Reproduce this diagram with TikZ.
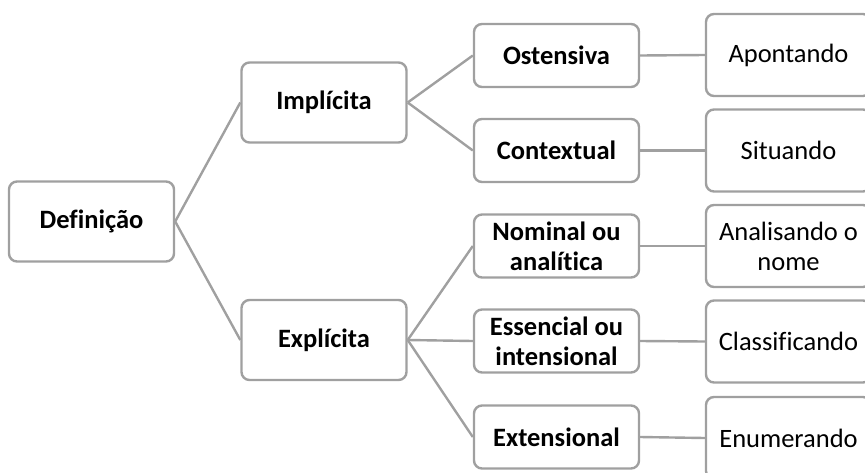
\documentclass[tikz,border=0pt]{standalone}
\usepackage{fontspec}
\setmainfont{Carlito}[Ligatures=NoCommon]
\definecolor{edgegray}{RGB}{160,160,160}
\begin{document}
\begin{tikzpicture}[x=1pt,y=-1pt,
  box/.style={draw=edgegray, line width=2.4pt, rounded corners=8pt, fill=white,
    align=center, inner sep=0pt, minimum width=165pt,
    font=\fontsize{26.5}{30}\selectfont},
  bbox/.style={box, font=\fontsize{26.5}{30}\selectfont\bfseries},
  rootbox/.style={bbox, minimum height=80pt},
  midbox/.style={bbox, minimum height=63pt},
  leafbox/.style={box, minimum height=82pt},
  link/.style={draw=edgegray, line width=2.4pt}]
\useasboundingbox (0,0) rectangle (865,472);
\clip (0,0) rectangle (865,472);

% tree levels
\node[rootbox] (def) at (91.5,221.5) {Definição};
\node[rootbox] (imp) at (324,102.5) {Implícita};
\node[rootbox] (exp) at (324,340) {Explícita};

\node[midbox] (ost) at (556.5,55.5) {Ostensiva};
\node[midbox] (con) at (556.5,150.5) {Contextual};
\node[midbox] (nom) at (556.5,246) {Nominal ou\\analítica};
\node[midbox] (ess) at (556.5,341) {Essencial ou\\intensional};
\node[midbox] (ext) at (556.5,437) {Extensional};

\node[leafbox] (apo) at (788.5,55) {Apontando};
\node[leafbox] (sit) at (788.5,150.5) {Situando};
\node[leafbox] (ana) at (788.5,246) {Analisando o\\nome};
\node[leafbox] (cla) at (788.5,341.5) {Classificando};
\node[leafbox] (enu) at (788.5,438) {Enumerando};

% connectors
\draw[link] (def.east) -- (imp.west);
\draw[link] (def.east) -- (exp.west);
\draw[link] (imp.east) -- (ost.west);
\draw[link] (imp.east) -- (con.west);
\draw[link] (exp.east) -- (nom.west);
\draw[link] (exp.east) -- (ess.west);
\draw[link] (exp.east) -- (ext.west);
\draw[link] (ost.east) -- (apo.west);
\draw[link] (con.east) -- (sit.west);
\draw[link] (nom.east) -- (ana.west);
\draw[link] (ess.east) -- (cla.west);
\draw[link] (ext.east) -- (enu.west);
\end{tikzpicture}
\end{document}
